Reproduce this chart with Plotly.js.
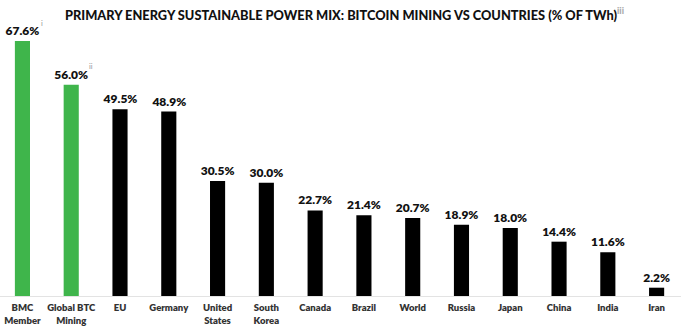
<!DOCTYPE html>
<html>
<head>
<meta charset="utf-8">
<script src="https://cdn.plot.ly/plotly-3.0.1.min.js"></script>
<style>
  html, body { margin: 0; padding: 0; background: #fff; }
  #chart { width: 689px; height: 334px; }
</style>
</head>
<body>
<div id="chart"></div>
<script>
// Share of sustainable sources in primary energy (% of TWh)
const categories = [
  'BMC<br>Member', 'Global BTC<br>Mining', 'EU', 'Germany', 'United<br>States',
  'South<br>Korea', 'Canada', 'Brazil', 'World', 'Russia', 'Japan', 'China', 'India', 'Iran'
];
const values = [67.6, 56.0, 49.5, 48.9, 30.5, 30.0, 22.7, 21.4, 20.7, 18.9, 18.0, 14.4, 11.6, 2.2];
const isBitcoin = [true, true, false, false, false, false, false, false, false, false, false, false, false, false];
const footnotes = ['i', 'ii', '', '', '', '', '', '', '', '', '', '', '', ''];

const GREEN = '#3fb54b';
const FONT = 'Lato, "DejaVu Sans", sans-serif';

const labels = values.map(v => v.toFixed(1) + '%');

const trace = {
  type: 'bar',
  x: categories,
  y: values,
  width: 0.31,
  marker: { color: isBitcoin.map(b => b ? GREEN : '#000000') },
  text: labels,
  textposition: 'outside',
  constraintext: 'none',
  cliponaxis: false,
  textfont: { family: FONT, size: 12, color: '#111', weight: 800 },
  hoverinfo: 'skip'
};

// small footnote markers beside the value labels
const annotations = [];
footnotes.forEach((f, i) => {
  if (!f) return;
  annotations.push({
    x: categories[i], y: values[i], xref: 'x', yref: 'y',
    text: f, showarrow: false,
    xshift: 20, yshift: 18,
    font: { family: FONT, size: 7.5, color: '#999' }
  });
});

const layout = {
  width: 689, height: 334,
  margin: { l: 0, r: 8, t: 30, b: 38 },
  paper_bgcolor: '#fff', plot_bgcolor: '#fff',
  showlegend: false,
  title: {
    text: 'PRIMARY ENERGY SUSTAINABLE POWER MIX: BITCOIN MINING VS COUNTRIES (% OF TWh)<sup><span style="color:#aaa">iii</span></sup>',
    font: { family: FONT, size: 12.8, color: '#111', weight: 900 },
    x: 0.5, xanchor: 'center', y: 0.955, yanchor: 'middle'
  },
  xaxis: {
    type: 'category',
    range: [-0.46, 13.5],
    showline: true, linecolor: '#e3e3e3', linewidth: 1,
    showgrid: false, zeroline: false,
    ticks: '', ticklabelstandoff: 3,
    tickfont: { family: FONT, size: 9.5, color: '#333', weight: 800 },
    fixedrange: true
  },
  yaxis: {
    range: [0, 70.52],
    visible: false, showgrid: false, zeroline: false,
    fixedrange: true
  },
  annotations: annotations
};

Plotly.newPlot('chart', [trace], layout, { displayModeBar: false, staticPlot: true });
</script>
</body>
</html>
